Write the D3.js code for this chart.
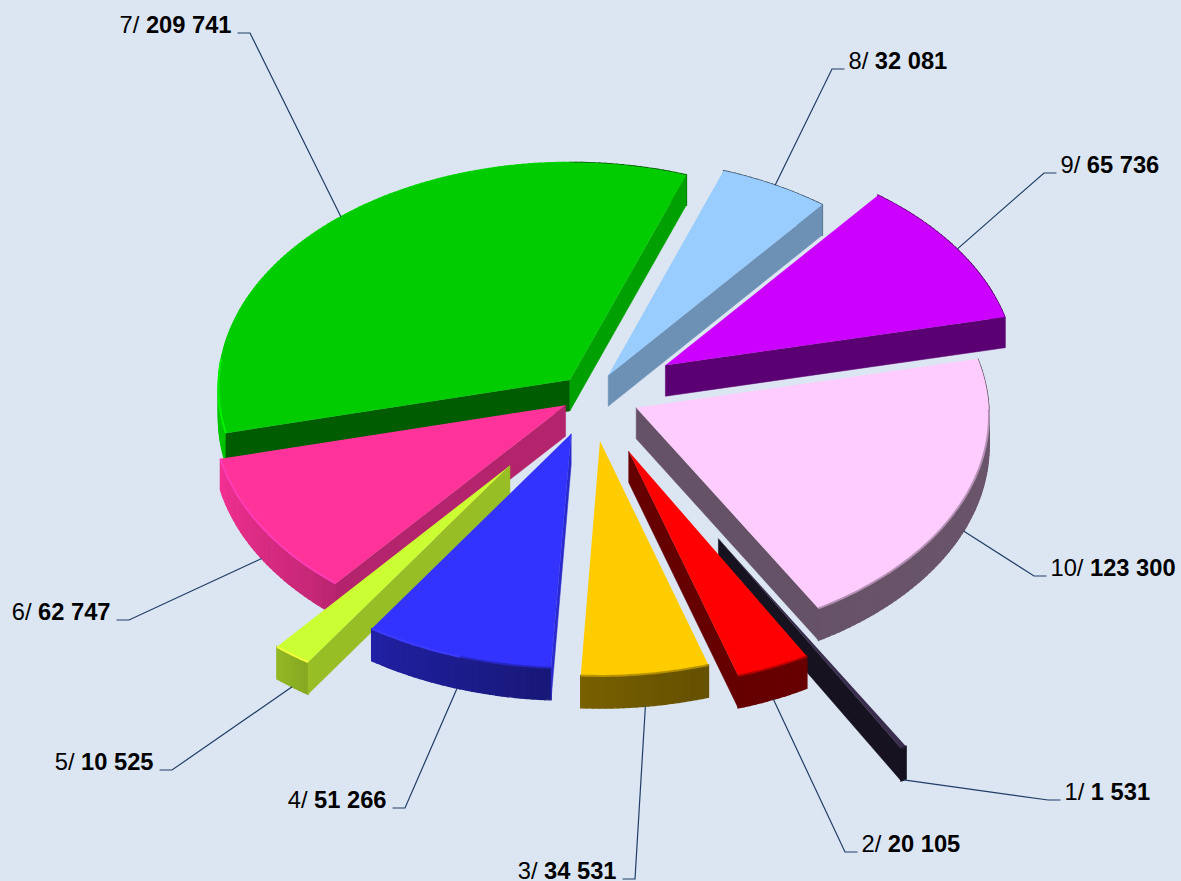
<!DOCTYPE html>
<html><head><meta charset="utf-8">
<script src="https://cdn.jsdelivr.net/npm/d3@7/dist/d3.min.js"></script>
<style>html,body{margin:0;padding:0;background:#DCE6F2;overflow:hidden}
text{font-family:"Liberation Sans",Arial,sans-serif;font-size:23.7px;fill:#000}</style>
</head><body><svg id="c" width="1181" height="881"></svg>
<script>
const ids = [1,2,3,4,5,6,7,8,9,10];
const values = [1531,20105,34531,51266,10525,62747,209741,32081,65736,123300];
const labels = ["1 531","20 105","34 531","51 266","10 525","62 747","209 741","32 081","65 736","123 300"];
const colors = ["#3A2D4E","#FF0000","#FFCC00","#3333FF","#CCFF33","#FF3399","#00CC00","#99CCFF","#CC00FF","#FFCCFF"];
const explode = [0.72,0.27,0.205,0.18,0.385,0.085,0.09,0.10,0.25,0.14];
const elbowX = [1048,845,635,405,172,129,250,832,1044,1034];
const elbowY = [800,852,879,808,770,620,33,69,173,576];
const stubDir = [1,1,-1,-1,-1,-1,-1,1,1,1];

const svg = d3.select("#c");
svg.append("rect").attr("width",1181).attr("height",881).attr("fill","#DCE6F2");

const persp = 0.03, depth = 31;
const sx = d3.scaleLinear().domain([-1,1]).range([591-352,591+352]);
const sy = d3.scaleLinear().domain([-1,1]).range([395+225,395-225]);
function proj(x,y,z){ // z 0=top, 1=bottom
  const k = 1/(1+persp*y);
  return [sx(x*k), sy(y*k)+z*depth*k];
}
const pie = d3.pie().sort(null).value(d=>d).startAngle(150*Math.PI/180).endAngle((150+360)*Math.PI/180);
const arcs = pie(values);
const rimShade = d3.scaleLinear().domain([90,165,185,210,225,256,300]).range([.42,.4,.48,.62,.78,.95,1.05]).clamp(true);
const wallShade = d3.scaleLinear().domain([105,125,130,165,240,255,262,275]).range([.8,.74,.7,.45,.4,.4,.8,.8]).clamp(true);
const line = d3.line();
const deg = r=>r*180/Math.PI;
function shadeCol(c,s){const o=d3.rgb(c);return d3.rgb(Math.min(255,o.r*s),Math.min(255,o.g*s),Math.min(255,o.b*s)).formatHex();}

const slices = arcs.map((a,i)=>{
  const mid=(a.startAngle+a.endAngle)/2, t=explode[i];
  const ox=t*Math.sin(mid), oy=t*Math.cos(mid);
  const n=Math.max(2,Math.ceil(deg(a.endAngle-a.startAngle)));
  const thetas=d3.range(n+1).map(j=>a.startAngle+(a.endAngle-a.startAngle)*j/n);
  return {i,a,mid,ox,oy,thetas};
});
const order=[6,7,8,9,5,0,1,2,4,3];
const g=svg.append("g");
function quad(sel,p,fill,w){sel.append("path").attr("d",line(p)+"Z").attr("fill",fill).attr("stroke",fill).attr("stroke-width",w);}
order.forEach(idx=>{
  const s=slices[idx], c=colors[idx], gg=g.append("g");
  const P=(th,z)=>proj(s.ox+Math.sin(th),s.oy+Math.cos(th),z);
  const A=z=>proj(s.ox,s.oy,z);
  // rim
  for(let j=0;j<s.thetas.length-1;j++){
    const t0=s.thetas[j],t1=s.thetas[j+1];
    const nd=(deg((t0+t1)/2))%360;
    quad(gg,[P(t0,0),P(t1,0),P(t1,1),P(t0,1)],shadeCol(c,rimShade(nd)),1.4);
  }
  // radial walls
  [[s.a.startAngle,s.a.endAngle,-90],[s.a.endAngle,s.a.startAngle,90]].forEach(([th,other,off])=>{
    const a0=A(0),r=P(th,0),o=P(other,0);
    const ex=r[0]-a0[0],ey=r[1]-a0[1];
    const cross=ex*(o[1]-a0[1])-ey*(o[0]-a0[0]);
    if(cross*ex<0){
      const nrm=((deg(th)+off)%360+360)%360;
      quad(gg,[a0,r,P(th,1),A(1)],shadeCol(c,wallShade(nrm)),.5);
    }
  });
  // top
  const top=[A(0)].concat(s.thetas.map(t=>P(t,0)));
  gg.append("path").attr("d",line(top)+"Z").attr("fill",c);
  // bevel on front rim
  for(let j=0;j<s.thetas.length-1;j++){
    const t0=s.thetas[j],t1=s.thetas[j+1];
    const nd=(deg((t0+t1)/2))%360;
    if(nd<90||nd>275) continue;
    const rs=rimShade(nd);
    const col=rs>.55? d3.color(c).brighter(.5).formatHex(): d3.interpolateRgb(c,shadeCol(c,rs))(.5);
    gg.append("path").attr("d",line([P(t0,0),P(t1,0)])).attr("stroke",col).attr("stroke-width",2).attr("fill","none");
  }
});
// leaders and labels
slices.forEach(s=>{
  const i=s.i;
  const front=Math.cos(s.mid)<0;
  const st=proj(s.ox+Math.sin(s.mid),s.oy+Math.cos(s.mid),front?1:0);
  const ex=elbowX[i],ey=elbowY[i],dir=stubDir[i];
  svg.append("path").attr("d",line([st,[ex,ey],[ex+dir*12.5,ey]])).attr("fill","none").attr("stroke","#1F3D66").attr("stroke-width",1.2);
  const t=svg.append("text").attr("x",ex+dir*(dir>0?16.5:18.5)).attr("y",ey).attr("text-anchor",dir>0?"start":"end");
  t.append("tspan").text(ids[i]+"/ ");
  t.append("tspan").attr("font-weight","bold").text(labels[i]);
});
</script></body></html>
